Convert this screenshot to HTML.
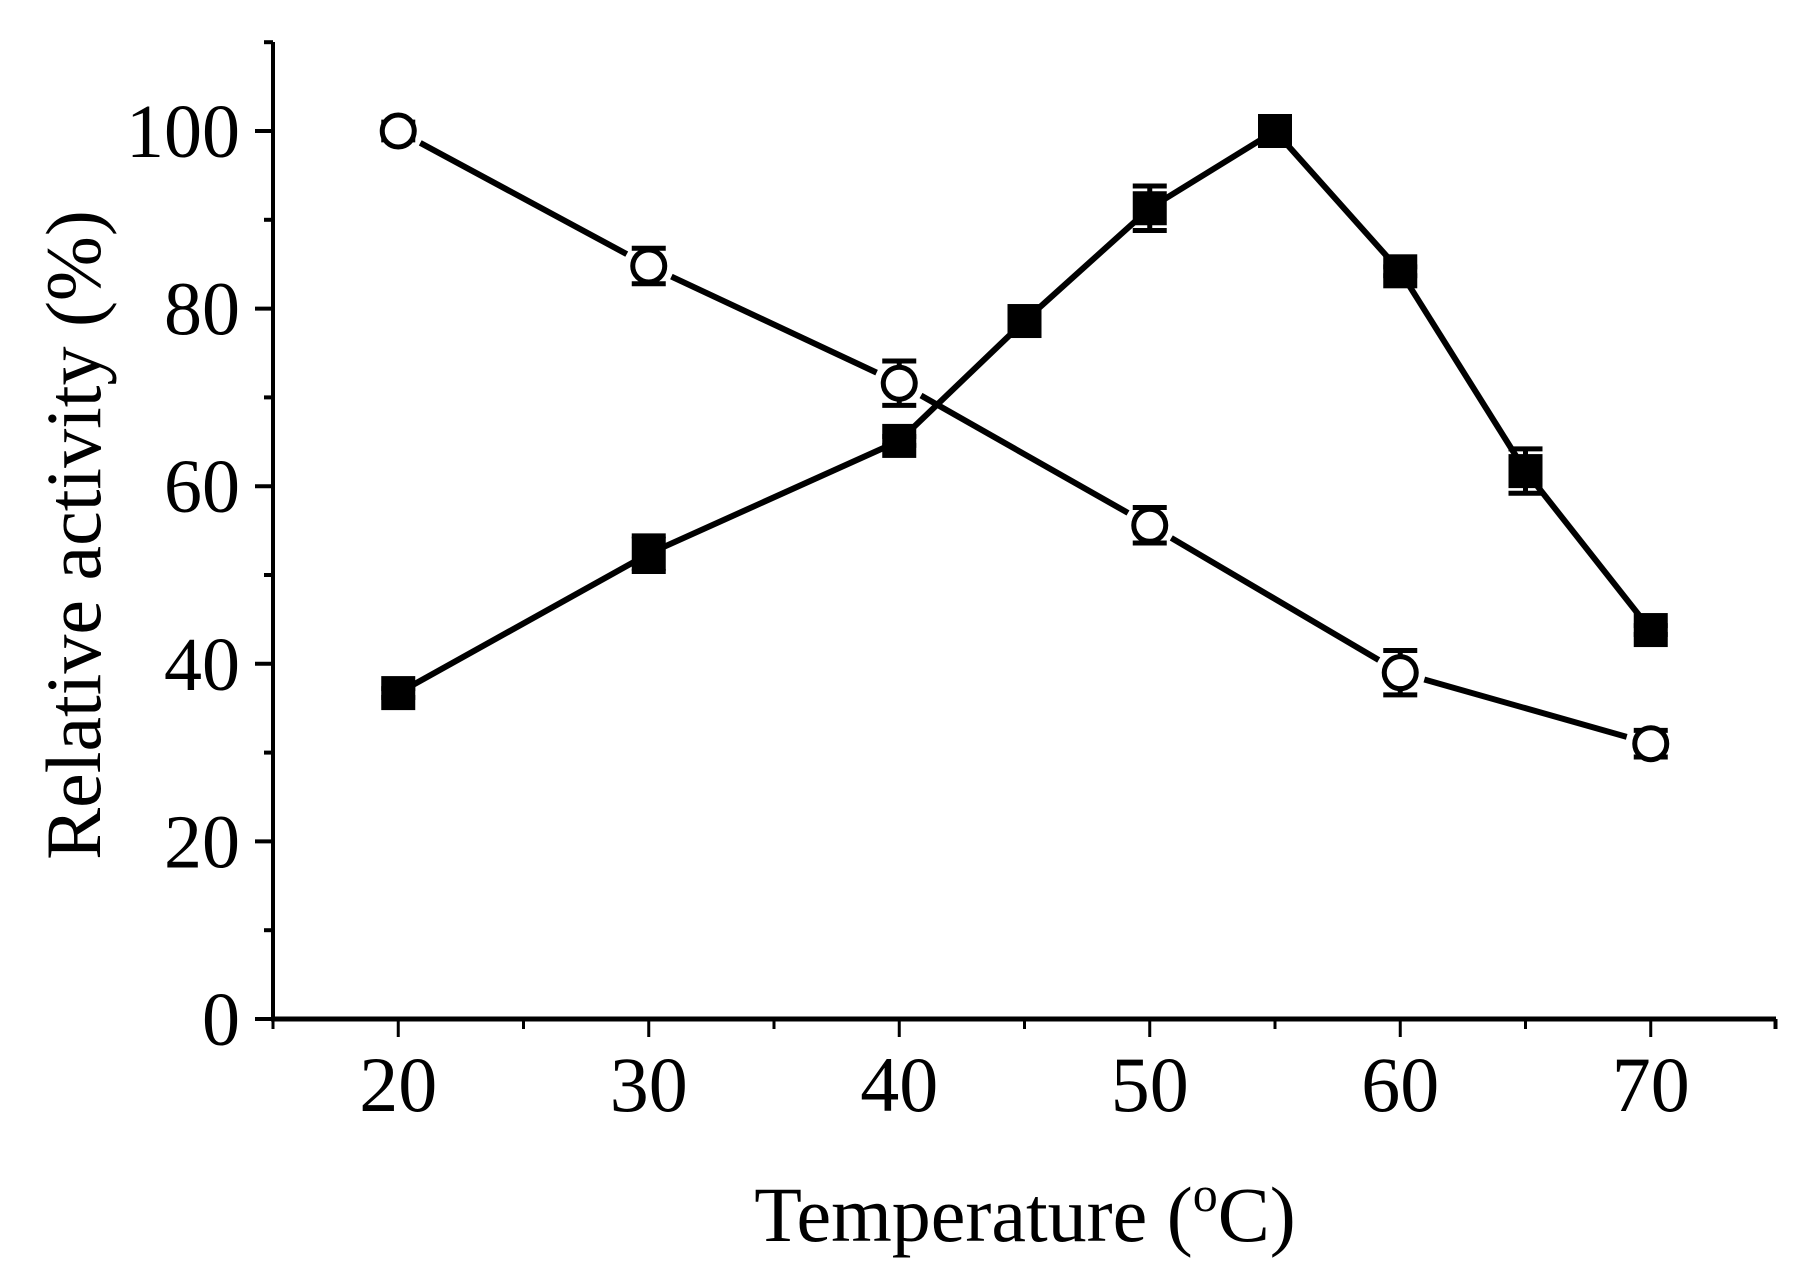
<!DOCTYPE html>
<html><head><meta charset="utf-8"><style>
html,body{margin:0;padding:0;background:#fff;}
svg{display:block;}
text{font-family:"Liberation Serif",serif;fill:#000;}
</style></head><body>
<svg id="chart" width="1805" height="1277" viewBox="0 0 1805 1277" xmlns="http://www.w3.org/2000/svg">
<g id="axes"></g>
<g id="series"></g>
<text x="1025" y="1241" font-size="78" text-anchor="middle">Temperature (<tspan font-size="50" dy="-30">o</tspan><tspan dy="30">C)</tspan></text>
<text transform="translate(100,535) rotate(-90)" font-size="78" text-anchor="middle">Relative activity (%)</text>
</svg>
<script>
const xTicks = [20, 30, 40, 50, 60, 70];
const yTicks = [0, 20, 40, 60, 80, 100];
const circleX = [20, 30, 40, 50, 60, 70];
const circleY = [100, 84.8, 71.6, 55.6, 39.0, 31.0];
const circleErr = [1.0, 2.0, 2.5, 2.0, 2.5, 1.5];
const squareX = [20, 30, 40, 45, 50, 55, 60, 65, 70];
const squareY = [36.7, 52.4, 65.1, 78.6, 91.3, 100, 84.2, 61.7, 43.8];
const squareErr = [0.5, 2.0, 0.5, 0.5, 2.5, 0.5, 0.5, 2.5, 0.5];

const NS = 'http://www.w3.org/2000/svg';
const X0 = 273, X1 = 1776, Y0 = 1019;
function sx(v){ return X0 + (v - 15) / 60 * (X1 - X0); }
function sy(v){ return Y0 - v * 8.88; }
function mk(tag, attrs, parent){
  const e = document.createElementNS(NS, tag);
  for (const k in attrs) e.setAttribute(k, attrs[k]);
  parent.appendChild(e);
  return e;
}
const axes = document.getElementById('axes');
const ser = document.getElementById('series');

let e;
e = mk('line', {x1:X0, y1:42, x2:X0, y2:Y0+2, stroke:'#000', 'stroke-width':4}, axes);


e = mk('line', {x1:X0-2, y1:Y0, x2:X1, y2:Y0, stroke:'#000', 'stroke-width':5}, axes);


e = mk('line', {x1:X1-1, y1:Y0, x2:X1-1, y2:Y0+10, stroke:'#000', 'stroke-width':3}, axes);



for (let v = 15; v <= 75; v += 5) {
  const major = xTicks.indexOf(v) >= 0;
  e = mk('line', {x1:sx(v), y1:Y0, x2:sx(v), y2:Y0 + (major ? 18 : 10), stroke:'#000', 'stroke-width':3}, axes);
  
  
}
xTicks.forEach(v => {
  const t = mk('text', {x:sx(v), y:1111, 'font-size':78, 'text-anchor':'middle'}, axes);
  t.textContent = v;
  
  
});
for (let v = 0; v <= 110; v += 10) {
  const major = yTicks.indexOf(v) >= 0;
  e = mk('line', {x1:X0 - (major ? 18 : 9), y1:sy(v), x2:X0, y2:sy(v), stroke:'#000', 'stroke-width':4}, axes);
  
  
}
yTicks.forEach(v => {
  const t = mk('text', {x:240, y:sy(v) + 26, 'font-size':76, 'text-anchor':'end'}, axes);
  t.textContent = v;
  
  
});

function drawLine(xs, ys, gap, name){
  for (let i = 0; i < xs.length - 1; i++) {
    const ax = sx(xs[i]), ay = sy(ys[i]), bx = sx(xs[i+1]), by = sy(ys[i+1]);
    const d = Math.hypot(bx-ax, by-ay), ux = (bx-ax)/d, uy = (by-ay)/d;
    const l = mk('line', {x1:ax+ux*gap, y1:ay+uy*gap, x2:bx-ux*gap, y2:by-uy*gap, stroke:'#000', 'stroke-width':6}, ser);
    
    
  }
}
function drawErr(x, y, err){
  const cx = sx(x), t = sy(y + err), b = sy(y - err);
  const g = mk('g', {stroke:'#000', 'stroke-width':5}, ser);
  
  
  mk('line', {x1:cx, y1:t, x2:cx, y2:b}, g);
  mk('line', {x1:cx-17, y1:t, x2:cx+17, y2:t}, g);
  mk('line', {x1:cx-17, y1:b, x2:cx+17, y2:b}, g);
}

drawLine(circleX, circleY, 25, 'circle-series-line');
drawLine(squareX, squareY, 0, 'square-series-line');

squareX.forEach((x, i) => {
  drawErr(x, squareY[i], squareErr[i]);
  const r = mk('rect', {x:sx(x)-17, y:sy(squareY[i])-17, width:34, height:34, fill:'#000'}, ser);
  
  
});
circleX.forEach((x, i) => {
  drawErr(x, circleY[i], circleErr[i]);
  const c = mk('ellipse', {cx:sx(x), cy:sy(circleY[i]), rx:16, ry:16, fill:'#fff', stroke:'#000', 'stroke-width':5}, ser);
  
  
});
</script>
</body></html>
